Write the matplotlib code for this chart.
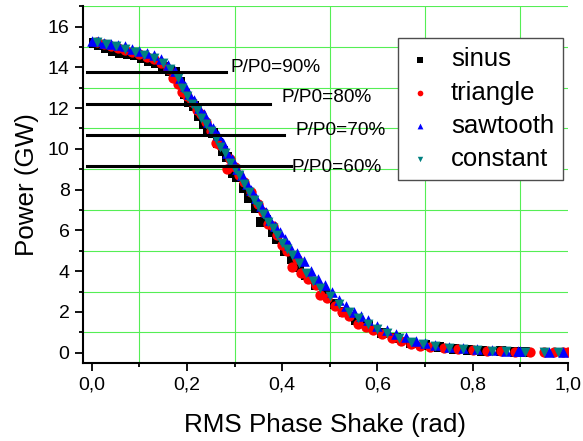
import numpy as np
import matplotlib.pyplot as plt
from matplotlib.ticker import MultipleLocator, FuncFormatter

plt.rcParams["font.family"] = ["Liberation Sans", "DejaVu Sans"]

# ---- data ----
sinus_x = [0.005, 0.015, 0.03, 0.045, 0.06, 0.075, 0.09, 0.105, 0.12, 0.135, 0.15, 0.165,
           0.175, 0.185, 0.195, 0.205, 0.215, 0.225, 0.235, 0.245, 0.255, 0.265, 0.275,
           0.285, 0.296, 0.305, 0.32, 0.33, 0.345, 0.355, 0.365, 0.38, 0.39, 0.405, 0.42,
           0.435, 0.45, 0.47, 0.49, 0.51, 0.53, 0.555, 0.58, 0.61, 0.64, 0.67, 0.70, 0.73,
           0.76, 0.79, 0.82, 0.86, 0.89, 0.91]
sinus_y = [15.2, 15.1, 14.95, 14.8, 14.7, 14.65, 14.6, 14.45, 14.3, 14.2, 14.0, 13.8,
           13.75, 13.3, 12.7, 12.3, 12.1, 11.6, 11.2, 10.9, 10.8, 10.3, 9.9,
           9.6, 8.8, 8.6, 8.1, 7.6, 7.1, 6.4, 6.5, 5.9, 5.6, 5.0, 4.6,
           4.2, 3.8, 3.3, 2.9, 2.4, 2.0, 1.6, 1.3, 0.95, 0.7, 0.5, 0.38, 0.28,
           0.2, 0.15, 0.1, 0.07, 0.05, 0.04]

triangle_x = [0.01, 0.025, 0.04, 0.055, 0.07, 0.085, 0.10, 0.115, 0.13, 0.145, 0.16, 0.17,
              0.18, 0.19, 0.20, 0.21, 0.22, 0.23, 0.24, 0.25, 0.26, 0.27, 0.283, 0.29,
              0.30, 0.31, 0.32, 0.335, 0.35, 0.36, 0.37, 0.38, 0.39, 0.40, 0.41, 0.42,
              0.43, 0.44, 0.455, 0.47, 0.48, 0.495, 0.51, 0.525, 0.54, 0.56, 0.575, 0.59,
              0.61, 0.63, 0.65, 0.67, 0.69, 0.71, 0.74, 0.77, 0.80, 0.83, 0.86, 0.89,
              0.92, 0.95, 0.97, 0.99, 1.0]
triangle_y = [15.25, 15.15, 15.05, 14.95, 14.85, 14.75, 14.65, 14.5, 14.4, 14.2, 13.9, 13.5,
              13.2, 12.8, 12.6, 12.3, 11.9, 11.7, 11.3, 10.9, 10.3, 10.2, 9.0, 9.5,
              9.1, 8.7, 8.4, 7.9, 7.3, 6.9, 6.3, 6.2, 5.8, 5.3, 5.0, 4.2,
              4.6, 3.9, 3.6, 3.3, 2.85, 2.7, 2.3, 2.0, 1.8, 1.4, 1.25, 1.1,
              0.9, 0.7, 0.6, 0.45, 0.35, 0.3, 0.22, 0.17, 0.12, 0.09, 0.07, 0.05,
              0.04, 0.03, 0.02, 0.02, 0.02]

sawtooth_x = [0.0, 0.012, 0.025, 0.04, 0.055, 0.07, 0.085, 0.10, 0.115, 0.13, 0.145, 0.16,
              0.175, 0.185, 0.195, 0.205, 0.215, 0.225, 0.235, 0.245, 0.255, 0.265, 0.275,
              0.285, 0.295, 0.305, 0.315, 0.325, 0.335, 0.345, 0.355, 0.365, 0.375, 0.385,
              0.395, 0.405, 0.415, 0.43, 0.445, 0.46, 0.475, 0.49, 0.505, 0.52, 0.535, 0.55,
              0.565, 0.58, 0.60, 0.62, 0.64, 0.66, 0.68, 0.70, 0.72, 0.75, 0.78, 0.81, 0.84,
              0.87, 0.895, 0.90, 0.96, 0.99]
sawtooth_y = [15.3, 15.3, 15.2, 15.15, 15.1, 15.05, 14.9, 14.8, 14.7, 14.6, 14.4, 14.1,
              13.8, 13.5, 13.1, 12.7, 12.4, 12.0, 11.7, 11.3, 11.0, 10.7, 10.3,
              9.8, 9.5, 9.0, 8.7, 8.3, 8.0, 7.6, 7.2, 6.9, 6.5, 6.2,
              5.9, 5.6, 5.3, 4.9, 4.5, 4.0, 3.6, 3.3, 3.0, 2.6, 2.3, 2.0,
              1.8, 1.6, 1.3, 1.1, 0.9, 0.75, 0.6, 0.5, 0.4, 0.3, 0.22, 0.16, 0.12,
              0.1, 0.08, 0.07, 0.05, 0.04]

constant_x = [0.01, 0.03, 0.05, 0.07, 0.09, 0.11, 0.13, 0.15, 0.165, 0.18, 0.19, 0.20,
              0.21, 0.22, 0.23, 0.24, 0.25, 0.26, 0.27, 0.28, 0.29, 0.30, 0.31, 0.32,
              0.33, 0.34, 0.35, 0.36, 0.37, 0.38, 0.39, 0.40, 0.41, 0.42, 0.435, 0.45,
              0.465, 0.48, 0.50, 0.52, 0.54, 0.56, 0.58, 0.60, 0.62, 0.645, 0.67, 0.695,
              0.72, 0.75, 0.78, 0.81, 0.84, 0.87, 0.91, 0.95, 0.98]
constant_y = [15.25, 15.15, 15.05, 14.9, 14.75, 14.6, 14.45, 14.2, 13.9, 13.5, 13.0, 12.6,
              12.2, 11.9, 11.5, 11.2, 10.9, 10.5, 10.1, 9.8, 9.3, 9.0, 8.7, 8.3,
              7.9, 7.5, 7.2, 6.8, 6.4, 6.1, 5.8, 5.4, 5.1, 4.8, 4.4, 3.9,
              3.5, 3.2, 2.8, 2.4, 2.0, 1.7, 1.4, 1.15, 0.95, 0.7, 0.55, 0.42,
              0.32, 0.25, 0.18, 0.13, 0.1, 0.08, 0.06, 0.04, 0.03]

# P/P0 reference levels
level_power = [13.77, 12.22, 10.69, 9.17]
level_end = [0.281, 0.375, 0.404, 0.419]
label_x = [0.292, 0.398, 0.427, 0.419]
label_y = [14.0, 12.5, 10.9, 9.07]
level_text = ["P/P0=90%", "P/P0=80%", "P/P0=70%", "P/P0=60%"]

fig = plt.figure(figsize=(5.83, 4.41), dpi=100)
ax = fig.add_axes([0.142, 0.177, 0.832, 0.809])

ax.scatter(sinus_x, sinus_y, marker="s", s=44, color="black", lw=0, label="sinus", zorder=3)
ax.scatter(triangle_x, triangle_y, marker="o", s=55, color="red", lw=0, label="triangle", zorder=3)
ax.scatter(sawtooth_x, sawtooth_y, marker="^", s=58, color="blue", lw=0, label="sawtooth", zorder=3)
ax.scatter(constant_x, constant_y, marker="v", s=50, color="#008080", lw=0, label="constant", zorder=3)

for p, xe, tx, ty, t in zip(level_power, level_end, label_x, label_y, level_text):
    ax.plot([-0.01, xe], [p, p], color="black", lw=2.2, zorder=4)
    ax.text(tx, ty, t, fontsize=13.7, va="center", ha="left", zorder=5)

ax.set_xlim(-0.019, 1.0)
ax.set_ylim(-0.5, 17)
ax.xaxis.set_major_locator(MultipleLocator(0.2))
ax.xaxis.set_minor_locator(MultipleLocator(0.1))
ax.yaxis.set_major_locator(MultipleLocator(2))
ax.yaxis.set_minor_locator(MultipleLocator(1))
ax.xaxis.set_major_formatter(FuncFormatter(lambda v, _: f"{v:.1f}".replace(".", ",")))
ax.grid(which="minor", color="#55ee55", lw=0.8)
ax.grid(which="major", visible=False)
ax.set_axisbelow(True)

for s in ["top", "right"]:
    ax.spines[s].set_visible(False)
for s in ["left", "bottom"]:
    ax.spines[s].set_linewidth(1.5)
ax.tick_params(which="major", direction="out", length=6, width=1.3, labelsize=14)
ax.tick_params(which="minor", direction="out", length=3, width=1.3)

ax.set_xlabel("RMS Phase Shake (rad)", fontsize=18.7, labelpad=14)
ax.set_ylabel("Power (GW)", fontsize=18.7, labelpad=6)

leg = ax.legend(loc="upper right", bbox_to_anchor=(0.99, 0.91), fontsize=18.5,
                markerscale=0.55, fancybox=False, edgecolor="0.3", framealpha=1,
                handlelength=1.0, handletextpad=0.7, labelspacing=0.36,
                borderpad=0.35, borderaxespad=0)
leg.get_frame().set_linewidth(1.0)

fig.savefig("out.png", dpi=100)
